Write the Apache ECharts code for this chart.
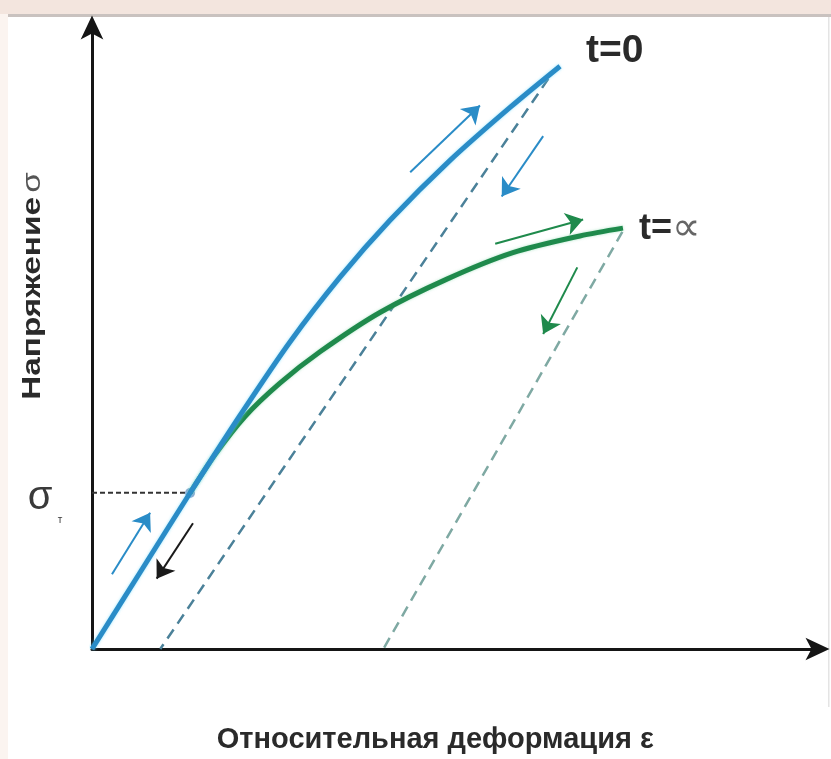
<!DOCTYPE html>
<html><head><meta charset="utf-8">
<script src="https://cdn.jsdelivr.net/npm/echarts@6/dist/echarts.min.js"></script>
<style>html,body{margin:0;padding:0;background:#fff}#c{width:831px;height:759px}</style>
</head><body><div id="c"></div>
<script>
// ---- data (arbitrary units: strain 0..100, stress 0..100) ----
const xAxisName = 'Относительная деформация ε';
const yAxisWord = 'Напряжение';
const yAxisSymbol = 'σ';
const labelT0 = 't=0';
const labelTInfPre = 't=';
const labelTInfSym = '∝';
const sigmaLabel = 'σ';
const sigmaSub = 'т';
const curveT0   = [[0,0],[6.61,12.29],[13.49,25.06],[20.37,37.51],[27.25,49.33],[34.14,59.73],[41.02,68.87],[49.28,78.49],[57.54,87.0],[64.42,93.62]];
const curveTInf = [[13.49,25.06],[16.93,31.21],[21.06,37.35],[25.87,42.71],[31.38,47.75],[39.63,54.06],[48.85,59.42],[57.94,63.67],[67.16,66.35],[73.08,67.61]];
const unloadT0   = [[62.8,91.6],[9.4,0]];
const unloadTInf = [[73.0,67.0],[40.1,0]];
const yieldLevel = [[0,25.1],[14.2,25.1]];
const yieldPoint = [[13.49,25.06]];
const blueArrows  = [[[2.75,12.0],[8.0,21.9]],[[43.8,76.6],[53.4,87.3]],[[62.1,82.4],[56.4,72.7]]];
const greenArrows = [[[55.5,65.1],[67.6,69.0]],[[66.8,61.3],[62.1,50.6]]];
const blackArrows = [[[13.9,20.2],[8.9,11.3]]];

const FONT = '"Liberation Sans", Arial, sans-serif';
const BLUE = '#2a8cc7', GREEN = '#1f8a4c';

const chart = echarts.init(document.getElementById('c'), null, {renderer:'canvas'});
const axisCommon = {
  type:'value', min:0, max:100,
  axisLine:{show:true, onZero:false, symbol:['none','arrow'], symbolSize:[17,24], symbolOffset:[0,11],
    lineStyle:{color:'#151515', width:3}},
  axisTick:{show:false}, axisLabel:{show:false}, splitLine:{show:false}
};
function arrowSeries(list, color){
  return {type:'lines', coordinateSystem:'cartesian2d', polyline:false, silent:true,
    symbol:['none','arrow'], symbolSize:[12,17],
    lineStyle:{color:color, width:2, opacity:1, curveness:0},
    data:list.map(c=>({coords:c}))};
}
chart.setOption({
  animation:false,
  backgroundColor:'#ffffff',
  grid:{left:92, right:12.5, top:26.5, bottom:98, containLabel:false},
  xAxis:Object.assign({}, axisCommon, {
    name:xAxisName, nameLocation:'middle', nameGap:76,
    nameTextStyle:{fontFamily:FONT, fontSize:29, fontWeight:'bold', color:'#2a2a2a', padding:[0,40,0,0]}
  }),
  yAxis:Object.assign({}, axisCommon),
  graphic:[
    {type:'rect', z:-1, shape:{x:0,y:0,width:831,height:14}, style:{fill:'#f3e5de'}},
    {type:'rect', z:-1, shape:{x:8,y:14,width:823,height:3}, style:{fill:'#c9c2bf'}},
    {type:'rect', z:-1, shape:{x:0,y:14,width:8,height:745}, style:{fill:'#fbf4f0'}},
    {type:'rect', z:-1, shape:{x:828,y:17,width:1.5,height:690}, style:{fill:'#e4e4e4'}},
    {type:'text', x:33, y:286, rotation:Math.PI/2, scaleX:1.28,
      style:{text:'{b|'+yAxisWord+'} {s|'+yAxisSymbol+'}', align:'center', verticalAlign:'middle',
        rich:{b:{fontFamily:FONT, fontSize:26, fontWeight:'bold', fill:'#2a2a2a', color:'#2a2a2a'},
              s:{fontFamily:FONT, fontSize:26, fontWeight:'normal', fill:'#555', color:'#555'}}}},
    {type:'text', x:40, y:498, style:{text:sigmaLabel, align:'center', verticalAlign:'middle', font:'normal 40px '+FONT, fill:'#3a3a3a'}},
    {type:'text', x:60, y:520, style:{text:sigmaSub, align:'center', verticalAlign:'middle', font:'normal 10px '+FONT, fill:'#3a3a3a'}}
  ],
  series:[
    {type:'line', data:unloadT0, symbol:'none', silent:true,
      lineStyle:{color:'#4b8199', width:2.5, type:[11,7]}},
    {type:'line', data:unloadTInf, symbol:'none', silent:true,
      lineStyle:{color:'#7fa9a3', width:2.5, type:[11,7]}},
    {type:'line', data:yieldLevel, symbol:'none', silent:true,
      lineStyle:{color:'#333333', width:1.8, type:[5,3]}},
    {type:'line', data:curveTInf, smooth:0.3, symbol:'none', silent:true,
      lineStyle:{color:GREEN, width:5, shadowColor:'rgba(120,210,160,0.6)', shadowBlur:3},
      endLabel:{show:true, offset:[8,1],
        formatter:'{b|'+labelTInfPre+'}{c|'+labelTInfSym+'}',
        rich:{b:{fontFamily:FONT, fontSize:36, fontWeight:'bold', color:'#2a2a2a'},
              c:{fontFamily:FONT, fontSize:40, fontWeight:'normal', color:'#666'}}}},
    {type:'line', data:curveT0, smooth:0.3, symbol:'none', silent:true,
      lineStyle:{color:BLUE, width:5, shadowColor:'rgba(110,220,255,0.7)', shadowBlur:3},
      endLabel:{show:true, offset:[18,-15], formatter:labelT0,
        fontFamily:FONT, fontSize:39, fontWeight:'bold', color:'#2a2a2a'}},
    {type:'scatter', data:yieldPoint, symbol:'circle', symbolSize:10, silent:true,
      itemStyle:{color:'rgba(50,100,170,0.7)'}},
    arrowSeries(blueArrows, BLUE),
    arrowSeries(greenArrows, GREEN),
    arrowSeries(blackArrows, '#1a1a1a')
  ]
});
</script></body></html>
